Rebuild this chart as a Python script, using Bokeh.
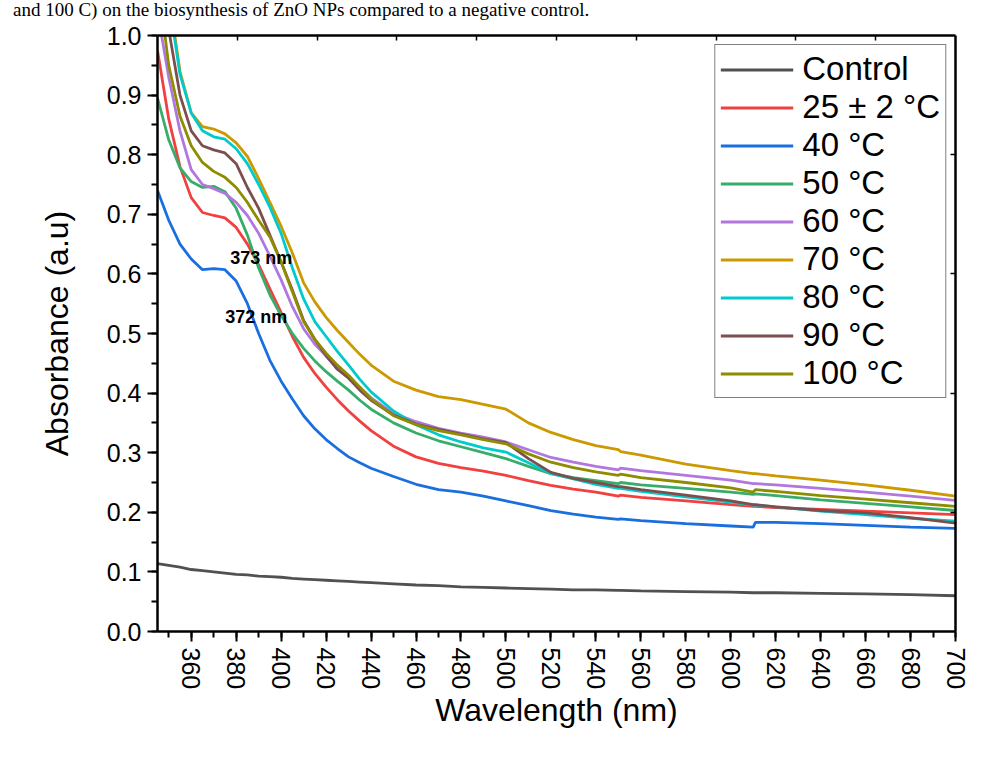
from bokeh.plotting import figure
from bokeh.layouts import column
from bokeh.models import (FixedTicker, PrintfTickFormatter, LinearAxis, Range1d,
                          Legend, LegendItem, Label, Div)
from bokeh.embed import file_html
from bokeh.resources import INLINE

# ---------------- data ----------------
wavelength = [345, 350, 355, 360, 365, 370, 375, 380, 385, 390, 395, 400, 405, 410,
              415, 420, 425, 430, 435, 440, 450, 460, 470, 480, 490, 500, 510, 520,
              530, 540, 550, 551, 560, 580, 600, 610, 611, 620, 640, 660, 680, 700]

control = [0.114, 0.111, 0.108, 0.104, 0.102, 0.100, 0.098, 0.096, 0.095, 0.093, 0.092, 0.091, 0.089, 0.088,
           0.087, 0.086, 0.085, 0.084, 0.083, 0.082, 0.080, 0.078, 0.077, 0.075, 0.074, 0.073, 0.072, 0.071,
           0.070, 0.070, 0.069, 0.069, 0.068, 0.067, 0.066, 0.065, 0.065, 0.065, 0.064, 0.063, 0.062, 0.060]

t25 = [0.975, 0.860, 0.780, 0.728, 0.703, 0.698, 0.694, 0.678, 0.650, 0.615, 0.575, 0.535, 0.495, 0.460,
       0.433, 0.410, 0.389, 0.370, 0.353, 0.337, 0.311, 0.293, 0.282, 0.275, 0.269, 0.262, 0.253, 0.245,
       0.239, 0.234, 0.227, 0.229, 0.225, 0.219, 0.213, 0.210, 0.210, 0.208, 0.205, 0.202, 0.199, 0.196]

t40 = [0.740, 0.690, 0.650, 0.625, 0.607, 0.609, 0.607, 0.588, 0.550, 0.500, 0.455, 0.420, 0.390, 0.362,
       0.340, 0.322, 0.307, 0.293, 0.283, 0.274, 0.260, 0.247, 0.238, 0.234, 0.227, 0.219, 0.211, 0.203,
       0.197, 0.192, 0.188, 0.189, 0.186, 0.181, 0.177, 0.175, 0.183, 0.183, 0.181, 0.178, 0.175, 0.173]

t50 = [0.895, 0.825, 0.778, 0.755, 0.745, 0.747, 0.738, 0.710, 0.665, 0.610, 0.565, 0.530, 0.500, 0.475,
       0.454, 0.436, 0.420, 0.405, 0.388, 0.373, 0.350, 0.333, 0.320, 0.310, 0.300, 0.290, 0.277, 0.265,
       0.258, 0.253, 0.248, 0.250, 0.246, 0.240, 0.234, 0.230, 0.231, 0.228, 0.221, 0.215, 0.209, 0.203]

t60 = [1.040, 0.930, 0.840, 0.775, 0.750, 0.743, 0.735, 0.720, 0.698, 0.668, 0.630, 0.590, 0.545, 0.508,
       0.482, 0.462, 0.443, 0.428, 0.410, 0.392, 0.366, 0.352, 0.341, 0.333, 0.326, 0.318, 0.305, 0.292,
       0.284, 0.277, 0.271, 0.274, 0.270, 0.262, 0.254, 0.248, 0.248, 0.246, 0.240, 0.234, 0.227, 0.220]

t70 = [1.250, 1.070, 0.940, 0.870, 0.847, 0.843, 0.835, 0.820, 0.797, 0.760, 0.720, 0.680, 0.635, 0.585,
       0.553, 0.527, 0.505, 0.485, 0.465, 0.447, 0.420, 0.405, 0.394, 0.389, 0.381, 0.373, 0.350, 0.334,
       0.322, 0.312, 0.305, 0.302, 0.296, 0.281, 0.270, 0.265, 0.265, 0.261, 0.254, 0.246, 0.237, 0.227]

t80 = [1.250, 1.060, 0.935, 0.870, 0.840, 0.830, 0.826, 0.810, 0.785, 0.750, 0.712, 0.668, 0.610, 0.558,
       0.520, 0.495, 0.470, 0.447, 0.423, 0.402, 0.370, 0.347, 0.330, 0.318, 0.308, 0.301, 0.283, 0.265,
       0.256, 0.247, 0.240, 0.240, 0.235, 0.226, 0.217, 0.212, 0.212, 0.209, 0.202, 0.196, 0.190, 0.185]

t90 = [1.200, 1.010, 0.900, 0.840, 0.815, 0.808, 0.803, 0.785, 0.745, 0.710, 0.665, 0.620, 0.573, 0.522,
       0.490, 0.463, 0.440, 0.425, 0.405, 0.388, 0.363, 0.348, 0.339, 0.331, 0.323, 0.317, 0.290, 0.267,
       0.257, 0.250, 0.243, 0.243, 0.238, 0.229, 0.219, 0.213, 0.213, 0.209, 0.203, 0.199, 0.191, 0.182]

t100 = [1.100, 0.950, 0.865, 0.815, 0.787, 0.772, 0.762, 0.745, 0.720, 0.690, 0.662, 0.620, 0.570, 0.520,
        0.490, 0.467, 0.447, 0.430, 0.410, 0.390, 0.362, 0.347, 0.337, 0.330, 0.322, 0.315, 0.298, 0.284,
        0.275, 0.268, 0.262, 0.264, 0.258, 0.250, 0.241, 0.234, 0.238, 0.235, 0.228, 0.222, 0.216, 0.210]

series_labels = ["Control", "25 \u00b1 2 \u00b0C", "40 \u00b0C", "50 \u00b0C", "60 \u00b0C",
                 "70 \u00b0C", "80 \u00b0C", "90 \u00b0C", "100 \u00b0C"]
series_values = [control, t25, t40, t50, t60, t70, t80, t90, t100]
series_colors = ["#515151", "#F14040", "#1A6FDF", "#37AD6B", "#B177DE",
                 "#CC9900", "#00CBCC", "#7D4E4E", "#8E8C00"]

x_major = list(range(360, 701, 20))
x_minor = list(range(350, 701, 10))
y_major = [i / 10 for i in range(0, 11)]
y_minor = [i / 20 for i in range(0, 21)]

peak_labels = ["373 nm", "372 nm"]
peak_x = [377.4, 375.1]
peak_y = [0.627, 0.5285]

caption = "and 100 C) on the biosynthesis of ZnO NPs compared to a negative control."

FONT = "Liberation Sans"

# ---------------- figure ----------------
p = figure(width=988, height=737, x_range=Range1d(345, 700), y_range=Range1d(0, 1.0),
           output_backend="svg", toolbar_location=None,
           min_border_left=157, min_border_right=33, min_border_top=15, min_border_bottom=126)
p.xgrid.visible = False
p.ygrid.visible = False
p.outline_line_color = None
p.background_fill_color = "white"
p.border_fill_color = "white"

renderers = []
for vals, col in zip(series_values, series_colors):
    r = p.line(wavelength, vals, line_color=col, line_width=2.8)
    renderers.append(r)

# bottom axis
xa = p.xaxis[0]
xa.ticker = FixedTicker(ticks=x_major, minor_ticks=x_minor)
xa.axis_label = "Wavelength (nm)"
xa.major_label_orientation = "vertical"
# left axis
ya = p.yaxis[0]
ya.ticker = FixedTicker(ticks=y_major, minor_ticks=y_minor)
ya.formatter = PrintfTickFormatter(format="%.1f")
ya.axis_label = "Absorbance (a.u)"

for ax in (xa, ya):
    ax.axis_line_width = 2.5
    ax.axis_line_color = "black"
    ax.major_tick_line_width = 2
    ax.minor_tick_line_width = 2
    ax.major_tick_out = 10
    ax.major_tick_in = 0
    ax.minor_tick_out = 6
    ax.minor_tick_in = 0
    ax.major_label_text_font = FONT
    ax.major_label_text_font_size = "25px"
    ax.major_label_text_color = "black"
    ax.axis_label_text_font = FONT
    ax.axis_label_text_font_size = "32px"
    ax.axis_label_text_font_style = "normal"
    ax.axis_label_text_color = "black"
xa.major_label_standoff = 6
xa.axis_label_standoff = 0
ya.major_label_standoff = 6
ya.axis_label_standoff = 29

# mirrored top / right axes (ticks only)
p.extra_x_ranges = {"top": Range1d(0, 10)}
top = LinearAxis(x_range_name="top", ticker=FixedTicker(ticks=list(range(1, 10)), minor_ticks=[]))
right = LinearAxis(ticker=FixedTicker(ticks=[0.2, 0.4, 0.6, 0.8], minor_ticks=[]))
for ax in (top, right):
    ax.major_label_text_font_size = "0px"
    ax.major_label_text_color = None
    ax.axis_line_width = 2.5
    ax.axis_line_color = "black"
    ax.major_tick_line_width = 1.5
    ax.major_tick_in = 5
    ax.major_tick_out = 0
    ax.minor_tick_line_color = None
    ax.major_label_standoff = 0
p.add_layout(top, "above")
p.add_layout(right, "right")

# peak annotations
for txt, xx, yy in zip(peak_labels, peak_x, peak_y):
    p.add_layout(Label(x=xx, y=yy, text=txt, text_font=FONT, text_font_size="18px",
                       text_font_style="bold", text_color="black", text_baseline="alphabetic"))

legend = Legend(items=[LegendItem(label=lab, renderers=[r]) for lab, r in zip(series_labels, renderers)],
                location="top_right")
legend.margin = 9
legend.padding = 5
legend.spacing = 0
legend.glyph_width = 73
legend.glyph_height = 37
legend.label_height = 37
legend.label_standoff = 9
legend.label_text_font = FONT
legend.label_text_font_size = "33px"
legend.label_text_color = "black"
legend.border_line_color = "black"
legend.border_line_width = 1
legend.background_fill_color = "white"
legend.background_fill_alpha = 1.0
p.add_layout(legend)

# caption line at the very top of the picture
cap = Div(text=caption, width=975, height=20, margin=(0, 0, 0, 13),
          styles={"font-family": "Liberation Serif", "font-size": "19px",
                  "line-height": "19px", "white-space": "nowrap", "color": "black"})

layout = column(cap, p, spacing=0)

open("out.html", "w").write(file_html(layout, INLINE))
